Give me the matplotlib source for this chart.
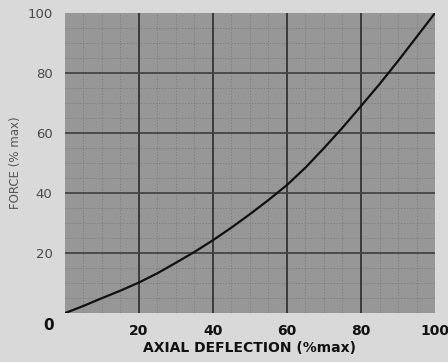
import matplotlib
matplotlib.use("Agg")
import matplotlib.pyplot as plt

# curve
deflection = [0, 5, 10, 15, 20, 25, 30, 35, 40, 45, 50,
              55, 60, 65, 70, 75, 80, 85, 90, 95, 100]
force = [0, 2.4, 5, 7.5, 10.2, 13.3, 16.8, 20.4, 24.3, 28.5, 33,
         37.7, 42.7, 48.5, 55, 61.8, 69, 76.3, 84, 92, 100]

x_ticks = [20, 40, 60, 80, 100]
y_ticks = [20, 40, 60, 80, 100]

fig = plt.figure(figsize=(4.48, 3.62), dpi=100, facecolor="#d9d9d9")
ax = fig.add_axes([0.145, 0.135, 0.826, 0.829])
ax.set_facecolor("#979797")

# minor grid every 5, major every 20
for v in range(5, 100, 5):
    if v % 20:
        ax.axvline(v, color="#7a7a7a", lw=0.6, ls=(0, (1.5, 2)), zorder=1)
        ax.axhline(v, color="#7a7a7a", lw=0.6, ls=(0, (1.5, 2)), zorder=1)
for v in x_ticks[:-1]:
    ax.axvline(v, color="#222222", lw=1.1, zorder=2)
for v in y_ticks[:-1]:
    ax.axhline(v, color="#444444", lw=1.3, zorder=2)

ax.plot(deflection, force, color="#111111", lw=1.6, zorder=3)

ax.set_xlim(0, 100)
ax.set_ylim(0, 100)
for s in ax.spines.values():
    s.set_visible(False)
ax.tick_params(length=0)

ax.set_xticks(x_ticks)
ax.set_xticklabels([str(t) for t in x_ticks], fontweight="bold", fontsize=10, color="#111111")
ax.tick_params(axis="x", pad=8)
ax.set_yticks(y_ticks)
ax.set_yticklabels([str(t) for t in y_ticks], fontsize=9.5, color="#4a4a4a")
ax.tick_params(axis="y", pad=9)
ax.text(-4.5, -4.2, "0", ha="center", va="center", fontsize=11, fontweight="bold", color="#111111")

ax.set_xlabel("AXIAL DEFLECTION (%max)", fontsize=10, fontweight="bold", color="#111111", labelpad=2)
ax.set_ylabel("FORCE (% max)", fontsize=8.5, color="#555555", labelpad=4)

fig.savefig("out.png", dpi=100, facecolor=fig.get_facecolor())
